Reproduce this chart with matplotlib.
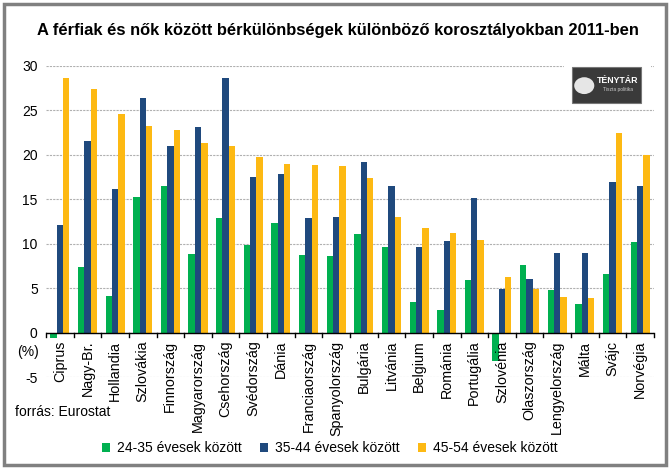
#!/usr/bin/env python3
# -*- coding: utf-8 -*-

import numpy as np
import matplotlib as mpl
import matplotlib.pyplot as plt
from matplotlib.patches import Rectangle, Ellipse

mpl.rcParams['font.family'] = ['Liberation Sans', 'DejaVu Sans']
mpl.rcParams['axes.unicode_minus'] = False

countries = ['Ciprus', 'Nagy-Br.', 'Hollandia', 'Szlovákia', 'Finnország',
             'Magyarország', 'Csehország', 'Svédország', 'Dánia',
             'Franciaország', 'Spanyolország', 'Bulgária', 'Litvánia',
             'Belgium', 'Románia', 'Portugália', 'Szlovénia', 'Olaszország',
             'Lengyelország', 'Málta', 'Svájc', 'Norvégia']
age_24_35 = [-0.6, 7.4, 4.1, 15.3, 16.5, 8.8, 12.9, 9.9, 12.3, 8.7, 8.6,
             11.1, 9.6, 3.4, 2.5, 5.9, -3.2, 7.6, 4.8, 3.2, 6.6, 10.2]
age_35_44 = [12.1, 21.6, 16.2, 26.4, 21.0, 23.1, 28.6, 17.5, 17.9, 12.9, 13.0,
             19.2, 16.5, 9.6, 10.3, 15.1, 4.9, 6.0, 8.9, 8.9, 17.0, 16.5]
age_45_54 = [28.6, 27.4, 24.6, 23.3, 22.8, 21.3, 21.0, 19.8, 19.0, 18.9, 18.8,
             17.4, 13.0, 11.8, 11.2, 10.4, 6.2, 4.9, 4.0, 3.9, 22.5, 20.0]
series_labels = ['24-35 évesek között', '35-44 évesek között',
                 '45-54 évesek között']
colors = ['#00B050', '#1F497D', '#FDB913']


def main() -> None:
    fig = plt.figure(figsize=(6.7, 4.68), dpi=100)
    ax = fig.add_axes([0.0687, 0.1944, 0.9073, 0.6646])

    x = np.arange(len(countries))
    w = 0.23
    for i, vals in enumerate([age_24_35, age_35_44, age_45_54]):
        ax.bar(x + (i - 1) * w, vals, width=w, color=colors[i],
               label=series_labels[i], zorder=3)

    ax.set_xlim(-0.5, len(countries) - 0.5)
    ax.set_ylim(-5, 30)
    ax.set_yticks(range(-5, 31, 5))
    ax.yaxis.grid(True, color='#b0b0b0', linestyle=(0, (2, 1)), linewidth=0.8)
    ax.set_axisbelow(True)
    for s in ['top', 'right', 'left', 'bottom']:
        ax.spines[s].set_visible(False)
    ax.axhline(0, color='black', linewidth=1.0, zorder=4)
    ax.tick_params(axis='y', length=0, labelsize=10, pad=6)
    ax.set_xticks([])
    # tick marks between categories on the zero line
    for b in np.arange(-0.5, len(countries), 1.0):
        ax.plot([b, b], [0, -0.45], color='black', linewidth=1.0, zorder=4,
                clip_on=False)
    for xi, name in zip(x, countries):
        ax.text(xi, -0.9, name, rotation=90, ha='center', va='top',
                fontsize=10.3)

    fig.text(0.504, 0.934, 'A férfiak és nők között bérkülönbségek különböző '
             'korosztályokban 2011-ben', ha='center', va='center',
             fontsize=11.9, fontweight='bold')
    fig.text(0.025, 0.247, '(%)', fontsize=10, ha='left', va='center')
    fig.text(0.022, 0.12, 'forrás: Eurostat', fontsize=10, ha='left',
             va='center')

    # logo box (white margin hides the top gridline end)
    fig.patches.append(Rectangle((0.842, 0.770), 0.13, 0.10,
                                 transform=fig.transFigure,
                                 facecolor='white', edgecolor='none'))
    fig.patches.append(Rectangle((0.854, 0.780), 0.103, 0.077,
                                 transform=fig.transFigure,
                                 facecolor='#3a3a3a', edgecolor='#777777',
                                 linewidth=0.8))
    fig.patches.append(Ellipse((0.872, 0.817), 0.030, 0.036,
                               transform=fig.transFigure,
                               facecolor='#e6e6e6', edgecolor='none'))
    fig.text(0.922, 0.828, 'TÉNYTÁR', color='white', fontsize=6.3,
             fontweight='bold', ha='center', va='center')
    fig.text(0.922, 0.808, 'Tiszta politika', color='#cccccc', fontsize=3.5,
             ha='center', va='center')

    handles, labels = ax.get_legend_handles_labels()
    fig.legend(handles, labels, loc='center', bbox_to_anchor=(0.492, 0.042),
               ncol=3, frameon=False, fontsize=10, handlelength=0.6,
               handleheight=0.6, columnspacing=1.3, handletextpad=0.5)

    # outer frame
    fig.patches.append(Rectangle((0.006, 0.007), 0.988, 0.984,
                                 transform=fig.transFigure, fill=False,
                                 edgecolor='#808080', linewidth=2.5))

    fig.savefig('out.png', dpi=100, facecolor='white')


if __name__ == '__main__':
    main()
